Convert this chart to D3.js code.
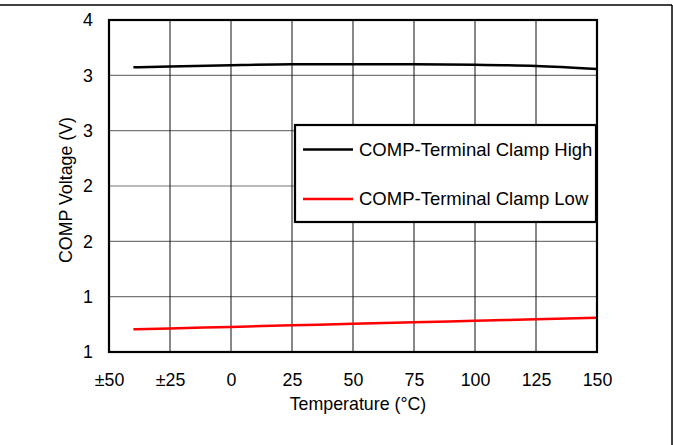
<!DOCTYPE html>
<html>
<head>
<meta charset="utf-8">
<script src="https://cdn.jsdelivr.net/npm/d3@7"></script>
<style>
  html, body { margin: 0; padding: 0; background: #fff; }
  svg { display: block; }
  text { font-family: "Liberation Sans", Arial, sans-serif; fill: #000; }
</style>
</head>
<body>
<script>
// ---- data ----
const temperatures = [-40, -25, 0, 25, 50, 75, 100, 125, 150];
const clampHigh = [3.573, 3.580, 3.592, 3.600, 3.601, 3.600, 3.596, 3.584, 3.557];
const clampLow  = [1.205, 1.213, 1.227, 1.241, 1.255, 1.268, 1.282, 1.296, 1.310];
const seriesNames = ["COMP-Terminal Clamp High", "COMP-Terminal Clamp Low"];
const xTickValues = [-50, -25, 0, 25, 50, 75, 100, 125, 150];
const xTickLabels = ["\u00b150", "\u00b125", "0", "25", "50", "75", "100", "125", "150"];
const yTickValues = [1, 1.5, 2, 2.5, 3, 3.5, 4];
const yTickLabels = ["1", "1", "2", "2", "3", "3", "4"];
const xTitle = "Temperature (\u00b0C)";
const yTitle = "COMP Voltage (V)";

// ---- layout ----
const W = 673, H = 445;
const m = { left: 109, right: 597, top: 20, bottom: 352 };

const svg = d3.select("body").append("svg").attr("width", W).attr("height", H);

// outer frame (top and right)
svg.append("line").attr("x1", 0).attr("x2", 672).attr("y1", 5).attr("y2", 5)
  .attr("stroke", "#000").attr("stroke-width", 1.5);
svg.append("line").attr("x1", 672).attr("x2", 672).attr("y1", 5).attr("y2", H)
  .attr("stroke", "#000").attr("stroke-width", 1.5);

const x = d3.scaleLinear().domain([-50, 150]).range([m.left, m.right]);
const y = d3.scaleLinear().domain([1, 4]).range([m.bottom, m.top]);

// gridlines
svg.append("g").selectAll("line").data(yTickValues.slice(1, -1)).join("line")
  .attr("x1", m.left).attr("x2", m.right)
  .attr("y1", d => y(d)).attr("y2", d => y(d))
  .attr("stroke", "#777").attr("stroke-width", 1.2);
svg.append("g").selectAll("line").data(xTickValues.slice(1, -1)).join("line")
  .attr("y1", m.top).attr("y2", m.bottom)
  .attr("x1", d => x(d)).attr("x2", d => x(d))
  .attr("stroke", "#111").attr("stroke-width", 1);

// axes (labels only)
const xAxis = d3.axisBottom(x).tickValues(xTickValues)
  .tickFormat((d, i) => xTickLabels[i]).tickSize(0).tickPadding(21);
const gx = svg.append("g").attr("transform", `translate(0,${m.bottom})`).call(xAxis);
gx.select(".domain").remove();
gx.selectAll("text").attr("font-size", "17.8px")
  .attr("font-family", "'Liberation Sans', Arial, sans-serif").attr("fill", "#000");

const yAxis = d3.axisLeft(y).tickValues(yTickValues)
  .tickFormat((d, i) => yTickLabels[i]).tickSize(0).tickPadding(16);
const gy = svg.append("g").attr("transform", `translate(${m.left},0)`).call(yAxis);
gy.select(".domain").remove();
gy.selectAll("text").attr("font-size", "17.8px")
  .attr("font-family", "'Liberation Sans', Arial, sans-serif").attr("fill", "#000");

// data lines
const line = d3.line().x((d, i) => x(temperatures[i])).y(d => y(d)).curve(d3.curveMonotoneX);
svg.append("path").datum(clampHigh).attr("d", line)
  .attr("fill", "none").attr("stroke", "#000").attr("stroke-width", 2.5);
svg.append("path").datum(clampLow).attr("d", line)
  .attr("fill", "none").attr("stroke", "#ff0000").attr("stroke-width", 2.5);

// plot border
svg.append("rect").attr("x", m.left).attr("y", m.top)
  .attr("width", m.right - m.left).attr("height", m.bottom - m.top)
  .attr("fill", "none").attr("stroke", "#000").attr("stroke-width", 2.2);

// axis titles
svg.append("text").attr("x", (m.left + m.right) / 2 + 5).attr("y", 410)
  .attr("text-anchor", "middle").attr("font-size", "17.8px").text(xTitle);
svg.append("text").attr("transform", `translate(72,190) rotate(-90)`)
  .attr("text-anchor", "middle").attr("font-size", "17.8px").text(yTitle);

// legend
const lg = svg.append("g");
lg.append("rect").attr("x", 295).attr("y", 125).attr("width", 301).attr("height", 97)
  .attr("fill", "#fff").attr("stroke", "#000").attr("stroke-width", 2.2);
const colors = ["#000", "#ff0000"];
const legY = [149.5, 199];
seriesNames.forEach((name, i) => {
  lg.append("line").attr("x1", 303).attr("x2", 353).attr("y1", legY[i]).attr("y2", legY[i])
    .attr("stroke", colors[i]).attr("stroke-width", 2.5);
  lg.append("text").attr("x", 359).attr("y", legY[i]).attr("dy", "0.35em")
    .attr("font-size", "18.5px").text(name);
});
</script>
</body>
</html>
